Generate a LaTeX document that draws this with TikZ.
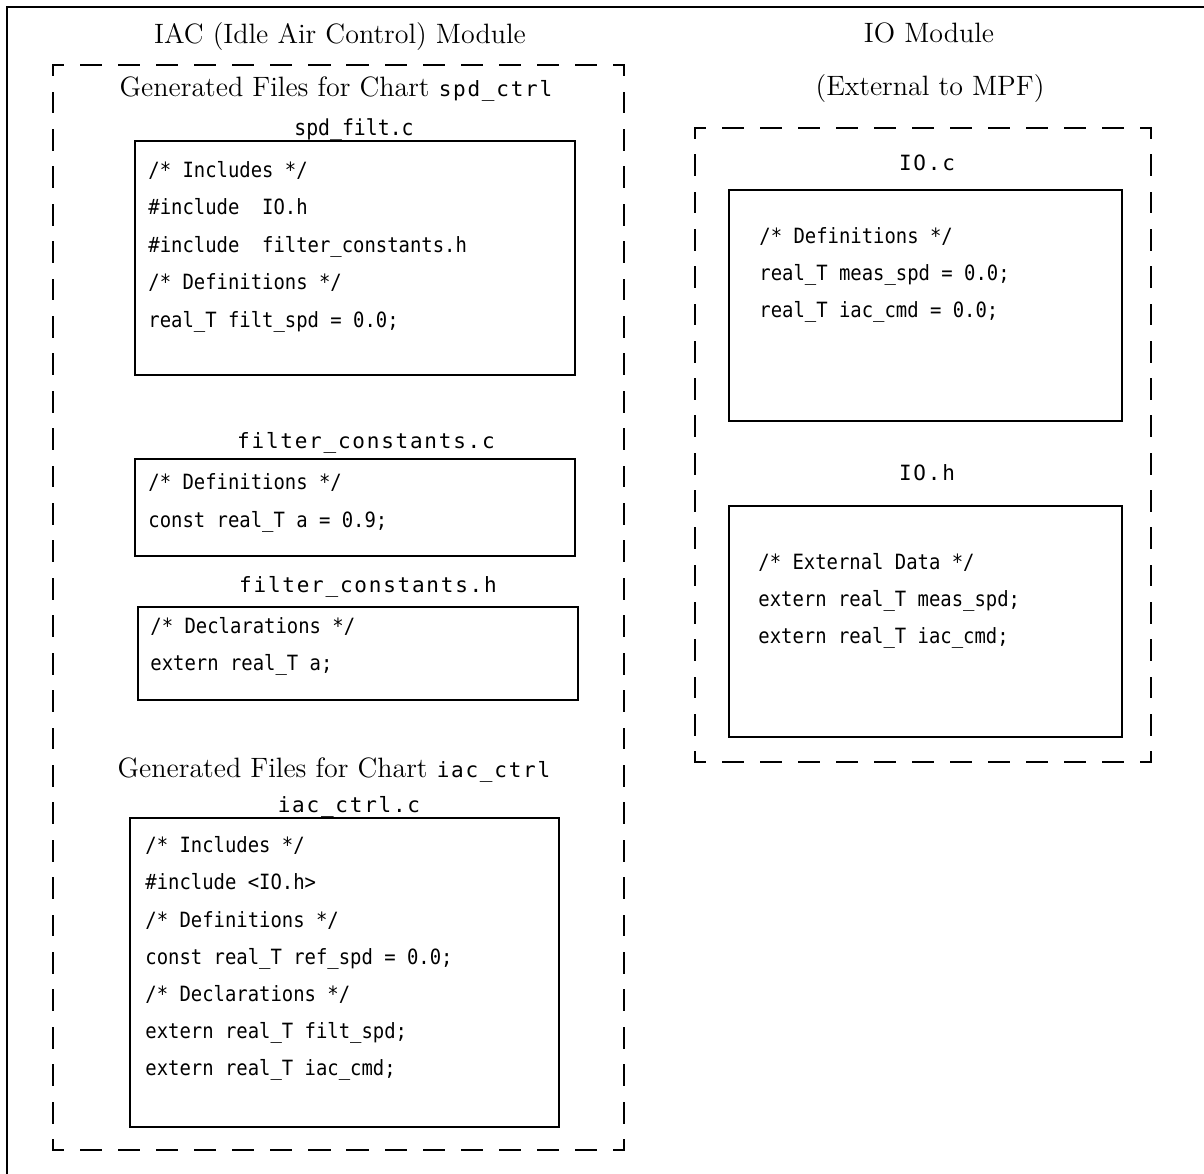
\documentclass[tikz,border=0pt]{standalone}
\usepackage{fontspec}
\newfontfamily\titlemono[LetterSpace=8.4]{DejaVu Sans Mono}
\newfontfamily\codemono[FakeStretch=0.9]{DejaVu Sans Mono}
\tikzset{
  heading/.style={font=\fontsize{14}{16}\selectfont, inner sep=0pt, anchor=base},
  ftitle/.style={font=\titlemono\fontsize{10.5}{12}\selectfont, inner sep=0pt, anchor=base},
  code/.style={font=\codemono\fontsize{10.5}{12}\selectfont, inner sep=0pt, anchor=base west},
  filebox/.style={draw, line width=1pt},
  frame/.style={draw, line width=1.4pt}
}
\newcommand{\hmono}[1]{{\titlemono\fontsize{10.5}{12}\selectfont #1}}
% one side of a dashed group box: half dashes at both ends, whole dashes between
\newcommand{\dside}[4]{%
  \pgfmathsetmacro\dlen{veclen(#3-#1,#4-#2)*0.5}%
  \pgfmathsetmacro\dn{max(1,round(\dlen/19))}%
  \pgfmathsetmacro\dper{\dlen/\dn}%
  \pgfmathsetmacro\don{0.53*\dper}%
  \pgfmathsetmacro\doff{0.47*\dper}%
  \pgfmathsetmacro\dph{0.265*\dper}%
  \draw[line width=1pt, line cap=rect, dash pattern=on \don pt off \doff pt, dash phase=\dph pt] (#1,#2) -- (#3,#4);}
\newcommand{\dbox}[4]{%
  \dside{#1}{#2}{#3}{#2}\dside{#3}{#2}{#3}{#4}%
  \dside{#3}{#4}{#1}{#4}\dside{#1}{#4}{#1}{#2}}
\begin{document}
\begin{tikzpicture}[x=0.5pt, y=-0.5pt]
  \useasboundingbox (0,0) rectangle (1204,1173);

  % outer frame
  \path[frame] (1210,7) -- (7,7) -- (7,1180);

  % module groups
  \dbox{53}{65}{624}{1150}
  \dbox{695}{128}{1151}{762}

  % file boxes
  \path[filebox] (135,141) rectangle (575,375);
  \path[filebox] (135,459) rectangle (575,556);
  \path[filebox] (138,607) rectangle (578,700);
  \path[filebox] (130,818) rectangle (559,1127);
  \path[filebox] (729,190) rectangle (1122,421);
  \path[filebox] (729,506) rectangle (1122,737);

  % headings
  \node[heading] (iacmod) at (340,43) {IAC (Idle Air Control) Module};
  \node[heading] (iomod) at (929,42) {IO Module};
  \node[heading] (ioext) at (930,95) {(External to MPF)};
  \node[heading] (genspd) at (336,96) {Generated Files for Chart \hmono{spd\_ctrl}};
  \node[heading] (geniac) at (334,777) {Generated Files for Chart \hmono{iac\_ctrl}};

  % file names
  \node[ftitle, font=\codemono\fontsize{11}{13}\selectfont] (spdname) at (354,135) {spd\_filt.c};
  \node[ftitle] (fcname) at (366,448) {filter\_constants.c};
  \node[ftitle] (fhname) at (368,592) {filter\_constants.h};
  \node[ftitle] (iacname) at (349,812) {iac\_ctrl.c};
  \node[ftitle] (iocname) at (927,170) {IO.c};
  \node[ftitle] (iohname) at (927,480) {IO.h};

  % spd_filt.c
  \node[code] (s1) at (148,177) {/* Includes */};
  \node[code] (s2) at (148,214) {\#include\ \ IO.h};
  \node[code] (s3) at (148,252) {\#include\ \ filter\_constants.h};
  \node[code] (s4) at (148,289) {/* Definitions */};
  \node[code] (s5) at (148,327) {real\_T filt\_spd = 0.0;};

  % filter_constants.c
  \node[code] (c1) at (148,489) {/* Definitions */};
  \node[code] (c2) at (148,527) {const real\_T a = 0.9;};

  % filter_constants.h
  \node[code] (h1) at (150,633) {/* Declarations */};
  \node[code] (h2) at (150,670) {extern real\_T a;};

  % iac_ctrl.c
  \node[code] (i1) at (145,852) {/* Includes */};
  \node[code] (i2) at (145,889) {\#include <IO.h>};
  \node[code] (i3) at (145,927) {/* Definitions */};
  \node[code] (i4) at (145,964) {const real\_T ref\_spd = 0.0;};
  \node[code] (i5) at (145,1001) {/* Declarations */};
  \node[code] (i6) at (145,1038) {extern real\_T filt\_spd;};
  \node[code] (i7) at (145,1075) {extern real\_T iac\_cmd;};

  % IO.c
  \node[code] (o1) at (759,243) {/* Definitions */};
  \node[code] (o2) at (759,280) {real\_T meas\_spd = 0.0;};
  \node[code] (o3) at (759,317) {real\_T iac\_cmd = 0.0;};

  % IO.h
  \node[code] (e1) at (758,569) {/* External Data */};
  \node[code] (e2) at (758,606) {extern real\_T meas\_spd;};
  \node[code] (e3) at (758,643) {extern real\_T iac\_cmd;};
\end{tikzpicture}
\end{document}
